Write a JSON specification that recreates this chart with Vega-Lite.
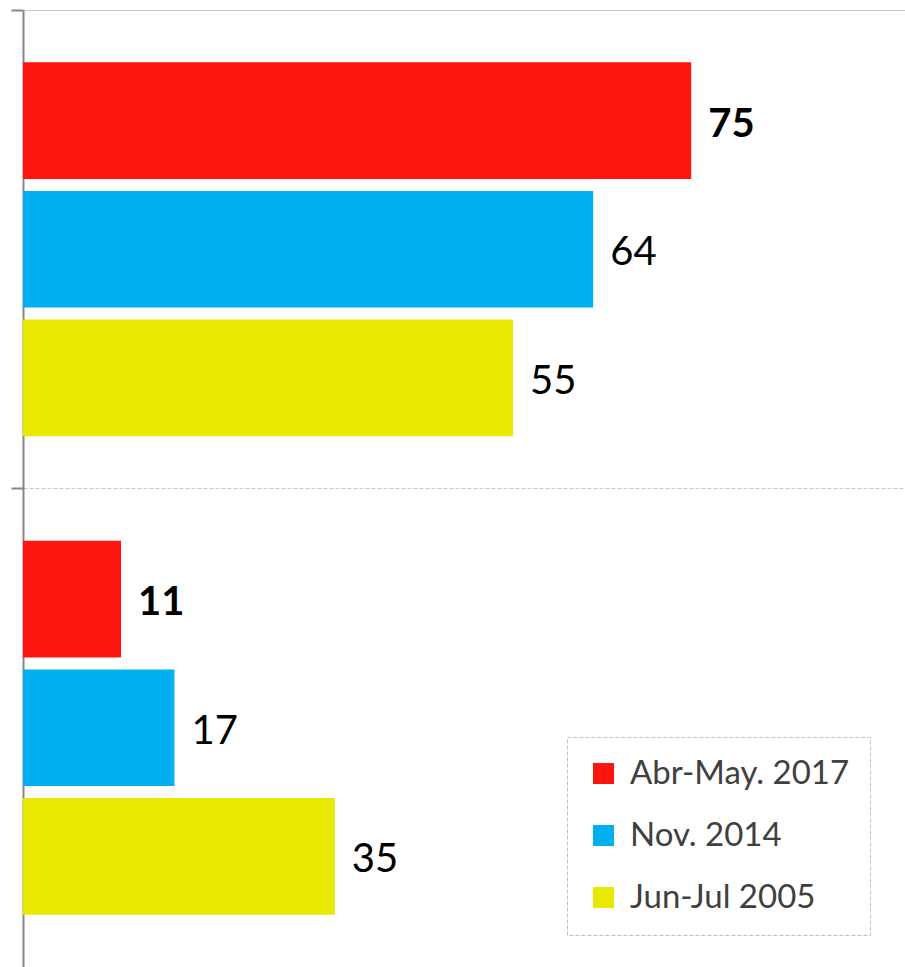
{
  "$schema": "https://vega.github.io/schema/vega-lite/v6.json",
  "width": 882,
  "height": 957,
  "autosize": {"type": "none"},
  "padding": {"left": 23, "top": 10, "right": 0, "bottom": 0},
  "background": "white",
  "config": {"view": {"stroke": null}, "font": "Lato"},
  "data": {
    "values": [
      {"grupo": "A", "serie": "Abr-May. 2017", "valor": 75},
      {"grupo": "A", "serie": "Nov. 2014", "valor": 64},
      {"grupo": "A", "serie": "Jun-Jul 2005", "valor": 55},
      {"grupo": "B", "serie": "Abr-May. 2017", "valor": 11},
      {"grupo": "B", "serie": "Nov. 2014", "valor": 17},
      {"grupo": "B", "serie": "Jun-Jul 2005", "valor": 35}
    ]
  },
  "encoding": {
    "y": {
      "field": "grupo",
      "type": "nominal",
      "sort": ["A", "B"],
      "scale": {"paddingInner": 0, "paddingOuter": 0},
      "axis": {
        "title": null,
        "labels": false,
        "bandPosition": 0,
        "domainColor": "#868686",
        "domainWidth": 2,
        "tickColor": "#868686",
        "tickWidth": 2,
        "tickSize": 12,
        "grid": true,
        "gridColor": "#c8c8c8",
        "gridWidth": 1,
        "gridDash": {"condition": {"test": "datum.value == 'B'", "value": [4, 2]}, "value": []}
      }
    },
    "yOffset": {
      "field": "serie",
      "type": "nominal",
      "sort": ["Abr-May. 2017", "Nov. 2014", "Jun-Jul 2005"],
      "scale": {"paddingInner": 0.093, "paddingOuter": 0.407}
    },
    "x": {
      "field": "valor",
      "type": "quantitative",
      "scale": {"domain": [0, 99]},
      "axis": null
    }
  },
  "layer": [
    {
      "mark": {"type": "bar"},
      "encoding": {
        "color": {
          "field": "serie",
          "type": "nominal",
          "sort": ["Abr-May. 2017", "Nov. 2014", "Jun-Jul 2005"],
          "scale": {
            "domain": ["Abr-May. 2017", "Nov. 2014", "Jun-Jul 2005"],
            "range": ["#fe1510", "#00b0f0", "#e8e800"]
          },
          "legend": {
            "title": null,
            "orient": "none",
            "legendX": 544,
            "legendY": 727,
            "padding": 20,
            "strokeColor": "#bfbfbf",
            "symbolType": "square",
            "symbolSize": 441,
            "symbolStrokeWidth": 0,
            "labelFont": "Lato",
            "labelFontSize": 33,
            "labelColor": "#404040",
            "labelOffset": 10,
            "labelLimit": 400,
            "rowPadding": 28,
            "encode": {"legend": {"update": {"strokeDash": {"value": [4, 2]}}}}
          }
        }
      }
    },
    {
      "transform": [{"filter": "datum.serie == 'Abr-May. 2017'"}],
      "mark": {"type": "text", "align": "left", "baseline": "middle", "dx": 17, "dy": 4, "fontSize": 40, "font": "Lato", "fontWeight": "bold", "color": "black"},
      "encoding": {
        "text": {"field": "valor", "type": "quantitative"}
      }
    },
    {
      "transform": [{"filter": "datum.serie != 'Abr-May. 2017'"}],
      "mark": {"type": "text", "align": "left", "baseline": "middle", "dx": 17, "dy": 4, "fontSize": 40, "font": "Lato", "color": "black"},
      "encoding": {
        "text": {"field": "valor", "type": "quantitative"}
      }
    }
  ]
}
